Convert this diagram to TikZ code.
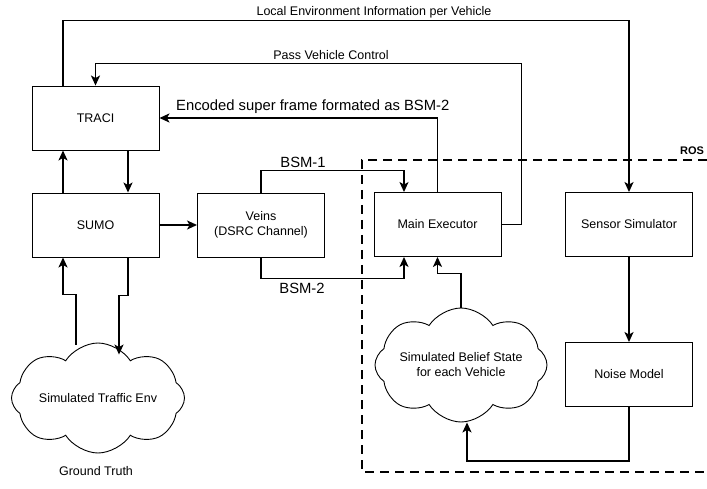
\documentclass[tikz,border=0pt]{standalone}
\usepackage{fontspec}
\setmainfont{Liberation Sans}
\usetikzlibrary{arrows.meta,shapes.symbols}

\begin{document}
\begin{tikzpicture}[x=1pt,y=-1pt]
\tikzstyle{block}=[draw,rectangle,line width=0.9pt,minimum width=127pt,minimum height=64pt,inner sep=0pt,align=center,font=\fontsize{12.5}{15}\selectfont]
\tikzstyle{puff}=[draw,cloud,cloud puffs=8,cloud puff arc=115,cloud ignores aspect,line width=0.9pt,inner sep=0pt,align=center,font=\fontsize{12.5}{15}\selectfont]
\tikzstyle{flow}=[line width=1.7pt,-{Stealth[length=10pt,width=9pt,inset=2.5pt]}]
\tikzstyle{small}=[inner sep=0pt,font=\fontsize{12.5}{15}\selectfont]
\tikzstyle{large}=[inner sep=0pt,font=\fontsize{14.8}{17}\selectfont]
\useasboundingbox (0,0) rectangle (707,489);
\node [block] (traci) at (95.5,118) {TRACI};
\node [block] (sumo) at (95.5,225) {SUMO};
\node [block] (veins) at (261,225) {Veins\\(DSRC Channel)};
\node [block] (exec) at (437.5,224.5) {Main Executor};
\node [block] (sensor) at (629,224.5) {Sensor Simulator};
\node [block] (noise) at (629,374.5) {Noise Model};
\node [puff,minimum width=173pt,minimum height=110pt] (traffic) at (98,398) {Simulated Traffic Env};
\node [puff,minimum width=172pt,minimum height=114pt] (belief) at (461,365) {Simulated Belief State\\for each Vehicle};
\node [small] (truth) at (96,471) {Ground Truth};
\node [small] (envinfo) at (374,12) {Local Environment Information per Vehicle};
\node [small] (passctl) at (331,55) {Pass Vehicle Control};
\node [large,anchor=south west] (encoded) at (176,114) {Encoded super frame formated as BSM-2};
\node [large] (bsma) at (303,162) {BSM-1};
\node [large] (bsmb) at (302,288) {BSM-2};
\node [small,font=\bfseries\fontsize{11}{13}\selectfont] (ros) at (692,151) {ROS};
% ROS boundary
\draw [line width=1.6pt,dash pattern=on 9pt off 6pt] (707,160) -- (362,160) -- (362,472) -- (707,472);
\draw [flow] ([xshift=-32.5pt]traci.north) -- ++(0,-65) -| (sensor.north);
\draw [flow] (exec.east) -| ++(20,-161) -| (traci.north);
\draw [flow] (exec.north) |- (traci.east);
\draw [flow] ([xshift=32.5pt]traci.south) -- ([xshift=32.5pt]sumo.north);
\draw [flow] ([xshift=-32.5pt]sumo.north) -- ([xshift=-32.5pt]traci.south);
\draw [flow] (sumo.east) -- (veins.west);
\draw [flow] (veins.north) -- ++(0,-22) -| ([xshift=-33.5pt]exec.north);
\draw [flow] (veins.south) -- ++(0,21) -| ([xshift=-33.5pt]exec.south);
\draw [flow] ([xshift=32.5pt]sumo.south) -- ++(0,38) -| ([shift={(21,12)}]traffic.north);
\draw [flow] ([shift={(-22,2)}]traffic.north) -- ++(0,-50) -| ([xshift=-32.5pt]sumo.south);
\draw [flow] (belief.north) -- ++(0,-34) -| (exec.south);
\draw [flow] (sensor.south) -- (noise.north);
\draw [flow] (noise.south) -- ++(0,54) -| ([xshift=6pt]belief.south);
\end{tikzpicture}
\end{document}
